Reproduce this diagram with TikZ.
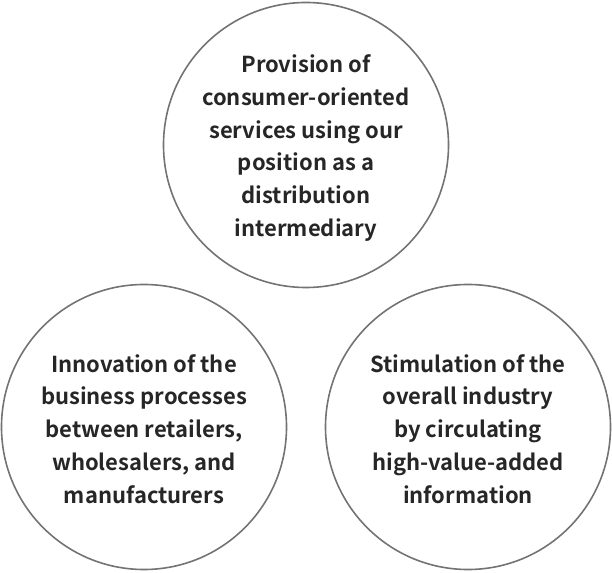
\documentclass[tikz,border=0pt]{standalone}
\usepackage{fontspec}
\setmainfont{Noto Sans CJK JP}[BoldFont={Noto Sans CJK JP Bold}]
\tikzset{
  ring/.style={circle, draw=black!55, line width=1.6pt, minimum size=285pt, inner sep=0pt},
  lbl/.style={align=center, text=black!85, font=\fontsize{22}{32.8}\selectfont\bfseries}
}
\begin{document}
\begin{tikzpicture}[x=1pt,y=1pt]
\useasboundingbox (0,0) rectangle (612,572);
\node[ring] (top) at (306,427) {};
\node[ring] (left) at (144,145) {};
\node[ring] (right) at (468,145) {};
\node[lbl] (ttop) at ([yshift=-3pt]top.center) {Provision of\\consumer-oriented\\services using our\\position as a\\distribution\\intermediary};
\node[lbl] (tleft) at ([yshift=-2pt]left.center) {Innovation of the\\business processes\\between retailers,\\wholesalers, and\\manufacturers};
\node[lbl] (tright) at ([yshift=-2pt]right.center) {Stimulation of the\\overall industry\\by circulating\\high-value-added\\information};
\end{tikzpicture}
\end{document}
